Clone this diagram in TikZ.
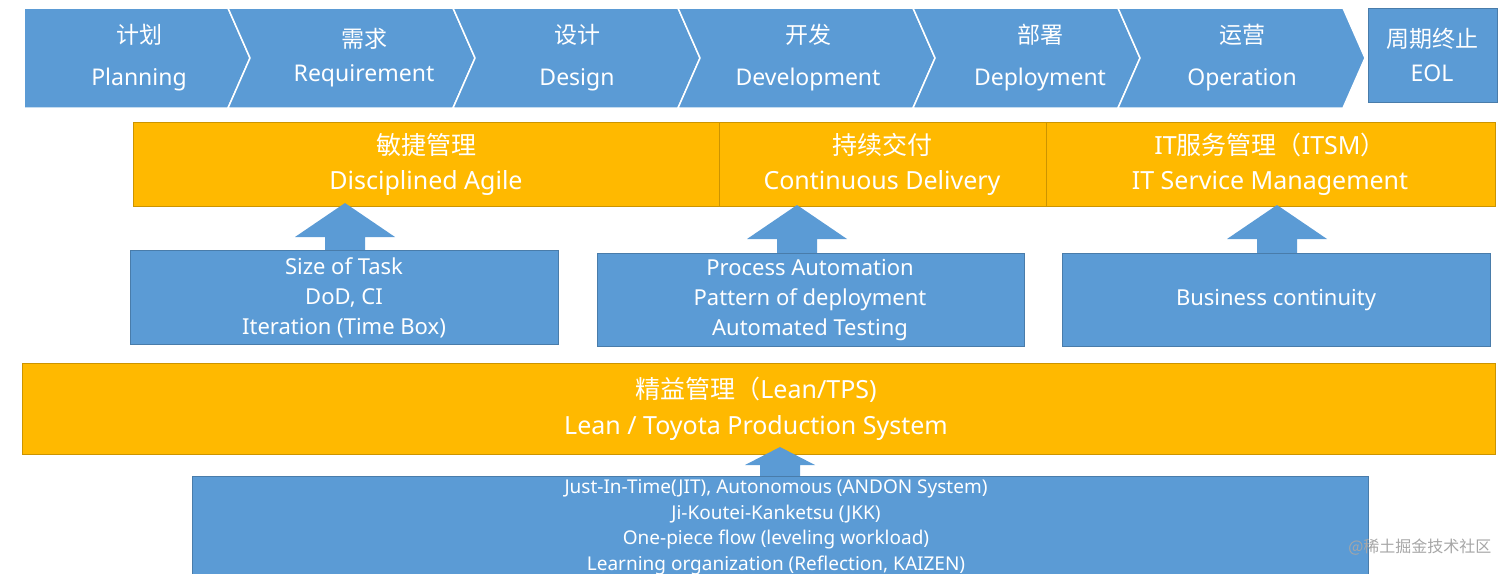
\documentclass[tikz,border=0pt]{standalone}
\usepackage{fontspec}
\setmainfont{Noto Sans}
\newfontfamily\cjk{Noto Sans CJK SC}
\definecolor{bl}{HTML}{5B9BD5}
\definecolor{og}{HTML}{FFB900}
\begin{document}
\begin{tikzpicture}[x=1pt,y=-1pt,
  txt/.style={text=white,align=center,font=\fontsize{22}{30}\selectfont},
  ttl/.style={text=white,align=center,font=\fontsize{23}{42}\selectfont},
  chev/.style={fill=bl,draw=white,line width=1.5pt},
  bar/.style={fill=og,draw=og!80!black,line width=0.6pt},
  box/.style={fill=bl,draw=bl!80!black,line width=0.6pt},
  up/.style={fill=bl}]
\useasboundingbox (0,0) rectangle (1512,573);
\clip (0,0) rectangle (1512,573);
% chevrons
\draw[chev] (24,8) -- (228,8) -- (250,58) -- (228,108) -- (24,108) -- cycle;
\foreach \a/\b in {228/453,453/678,678/913,913/1118,1118/1343}{
  \draw[chev] (\a,8) -- (\b,8) -- (\b+22,58) -- (\b,108) -- (\a,108) -- (\a+22,58) -- cycle;}
\node[ttl] (p) at (139,58) {{\cjk 计划}\\Planning};
\node[ttl,font=\fontsize{23}{34}\selectfont] (r) at (364,58) {{\cjk 需求}\\Requirement};
\node[ttl] (d) at (577,58) {{\cjk 设计}\\Design};
\node[ttl] (v) at (808,58) {{\cjk 开发}\\Development};
\node[ttl] (y) at (1040,58) {{\cjk 部署}\\Deployment};
\node[ttl] (o) at (1242,58) {{\cjk 运营}\\Operation};
\draw[fill=bl,draw=bl!80!black] (1368,8) rectangle (1497,102);
\node[ttl,font=\fontsize{23}{34}\selectfont] (eol) at (1432,55) {{\cjk 周期终止}\\EOL};
% orange bar 1
\draw[bar] (133,122) rectangle (1495,206);
\draw[og!80!black] (719,122) -- (719,206) (1046,122) -- (1046,206);
\node[ttl,font=\fontsize{25}{35}\selectfont] (da) at (426,164) {{\cjk 敏捷管理}\\Disciplined Agile};
\node[ttl,font=\fontsize{25}{35}\selectfont] (cd) at (882,164) {{\cjk 持续交付}\\Continuous Delivery};
\node[ttl,font=\fontsize{25}{35}\selectfont] (it) at (1270,164) {IT{\cjk 服务管理（}ITSM{\cjk ）}\\IT Service Management};
% arrows
\foreach \x/\t/\b in {345/203/250,797/205/253,1277/205/253}{
  \fill[up] (\x,\t) -- (\x+50,\t+34) -- (\x+20,\t+34) -- (\x+20,\b) -- (\x-20,\b) -- (\x-20,\t+34) -- (\x-50,\t+34) -- cycle;}
% boxes
\draw[box] (130,250) rectangle (558,344);
\node[txt] (b1) at (344,298) {Size of Task\\DoD, CI\\Iteration (Time Box)};
\draw[box] (597,253) rectangle (1024,346);
\node[txt] (b2) at (810,300) {Process Automation\\Pattern of deployment\\Automated Testing};
\draw[box] (1062,253) rectangle (1490,346);
\node[txt] (b3) at (1276,300) {Business continuity};
% orange bar 2
\draw[bar] (22,363) rectangle (1495,454);
\node[ttl,font=\fontsize{25}{36}\selectfont] (lean) at (756,409) {{\cjk 精益管理（}Lean/TPS)\\Lean / Toyota Production System};
\fill[up] (780,447) -- (815,465) -- (800,465) -- (800,477) -- (760,477) -- (760,465) -- (745,465) -- cycle;
\draw[box] (192,476) rectangle (1368,600);
\node[text=white,align=center,font=\fontsize{19}{25.5}\selectfont,anchor=north] (bt) at (776,476) {Just-In-Time(JIT), Autonomous (ANDON System)\\Ji-Koutei-Kanketsu (JKK)\\One-piece flow (leveling workload)\\Learning organization (Reflection, KAIZEN)};
\node[text=gray!70,font=\fontsize{16}{18}\selectfont\cjk,anchor=east] (wm) at (1495,547) {@稀土掘金技术社区};
\end{tikzpicture}
\end{document}
